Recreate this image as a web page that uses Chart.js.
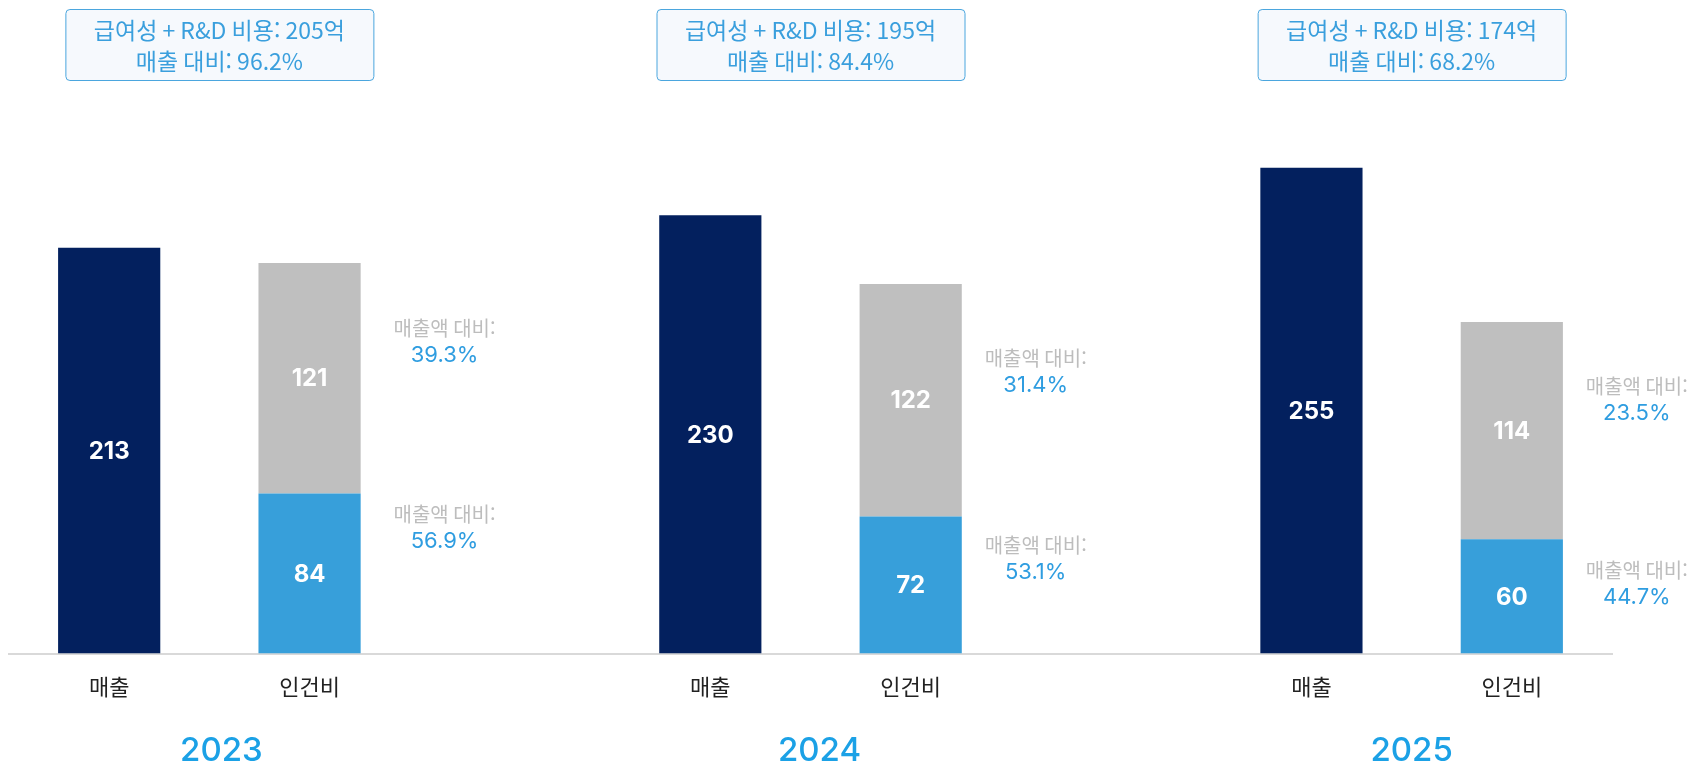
<!DOCTYPE html>
<html lang="ko">
<head>
<meta charset="utf-8">
<script src="https://cdn.jsdelivr.net/npm/chart.js@4.4.1/dist/chart.umd.min.js"></script>
<style>
  html, body { margin: 0; padding: 0; background: #fff; }
  #wrap { width: 1698px; height: 769px; position: relative; }
</style>
</head>
<body>
<div id="wrap"><canvas id="costChart"></canvas></div>
<script>
const years = ['2023', '2024', '2025'];
const barNames = ['매출', '인건비'];
const sales = [213, 230, 255];
const laborCost = [84, 72, 60];
const rndCost = [121, 122, 114];
const totalCost = [205, 195, 174];
const totalRatio = ['96.2%', '84.4%', '68.2%'];
const upperRatio = ['39.3%', '31.4%', '23.5%'];
const lowerRatio = ['56.9%', '53.1%', '44.7%'];

// two bars per year, empty slot between years
const labels = [];
const salesData = [], laborData = [], rndData = [];
years.forEach((y, i) => {
    labels.push(barNames[0], barNames[1]);
    salesData.push(sales[i], null);
    laborData.push(null, laborCost[i]);
    rndData.push(null, rndCost[i]);
    if (i < years.length - 1) {
        labels.push('');
        salesData.push(null);
        laborData.push(null);
        rndData.push(null);
    }
});

const KR = '"Noto Sans CJK KR", "Noto Sans", sans-serif';
const NUM = 'Inter, "Noto Sans", sans-serif';
// small hand-tuned nudges of the overlay texts
const boxShift = [10, 0, 0];
const yearShift = [12, 9, 0];
const upperNudge = [-1, 8, -2];
const lowerNudge = [-5, 3, 5];

function roundRect(ctx, x, y, w, h, r) {
    ctx.beginPath();
    ctx.moveTo(x + r, y);
    ctx.arcTo(x + w, y, x + w, y + h, r);
    ctx.arcTo(x + w, y + h, x, y + h, r);
    ctx.arcTo(x, y + h, x, y, r);
    ctx.arcTo(x, y, x + w, y, r);
    ctx.closePath();
}

const overlay = {
    id: 'overlay',
    afterDraw(chart) {
        const ctx = chart.ctx;
        ctx.save();

        // values inside bars
        ctx.textAlign = 'center';
        ctx.textBaseline = 'middle';
        ctx.fillStyle = '#ffffff';
        ctx.font = '700 24px ' + NUM;
        chart.data.datasets.forEach((ds, d) => {
            chart.getDatasetMeta(d).data.forEach((el, k) => {
                if (ds.data[k] == null) return;
                ctx.fillText(String(ds.data[k]), el.x, (el.y + el.base) / 2 + 1);
            });
        });

        const salesMeta = chart.getDatasetMeta(0);
        const laborMeta = chart.getDatasetMeta(1);
        const rndMeta = chart.getDatasetMeta(2);

        years.forEach((yr, i) => {
            const s = salesMeta.data[i * 3];
            const lab = laborMeta.data[i * 3 + 1];
            const rnd = rndMeta.data[i * 3 + 1];
            const mid = (s.x + lab.x) / 2;

            // summary box
            const bx = mid + boxShift[i];
            const bw = 308, bh = 71, by = 9;
            roundRect(ctx, bx - bw / 2 + 0.5, by + 0.5, bw, bh, 4);
            ctx.fillStyle = '#f6f9fd';
            ctx.fill();
            ctx.strokeStyle = '#4ba6de';
            ctx.lineWidth = 1;
            ctx.stroke();
            ctx.fillStyle = '#3a9fdd';
            ctx.font = '400 23px ' + KR;
            ctx.fillText('급여성 + R&D 비용: ' + totalCost[i] + '억', bx, by + 21);
            ctx.fillText('매출 대비: ' + totalRatio[i], bx, by + 52);

            // side notes
            const nx = lab.x + 125 + boxShift[i];
            const notes = [
                [rnd.y + 79 + upperNudge[i], upperRatio[i]],
                [lab.y + 39 + lowerNudge[i], lowerRatio[i]]
            ];
            notes.forEach(([cy, txt]) => {
                ctx.fillStyle = '#bdbdbd';
                ctx.font = '400 20px ' + KR;
                ctx.fillText('매출액 대비:', nx, cy - 13);
                ctx.fillStyle = '#2f9de0';
                ctx.font = '400 22px ' + NUM;
                ctx.fillText(txt, nx, cy + 14);
            });

            // year label
            ctx.fillStyle = '#1ba1e6';
            ctx.font = '500 33px ' + NUM;
            ctx.fillText(yr, mid + yearShift[i], 751);
        });

        ctx.restore();
    }
};

const ctx = document.getElementById('costChart').getContext('2d');
window.costChart = new Chart(ctx, {
    type: 'bar',
    data: {
        labels: labels,
        datasets: [
            { label: '매출', data: salesData, backgroundColor: '#03205e', stack: 'a' },
            { label: '인건비', data: laborData, backgroundColor: '#379fda', stack: 'a' },
            { label: 'R&D', data: rndData, backgroundColor: '#bfbfbf', stack: 'a' }
        ]
    },
    options: {
        responsive: true,
        maintainAspectRatio: false,
        animation: false,
        layout: { padding: { top: 101, left: 9, right: 86, bottom: 49 } },
        datasets: { bar: { barPercentage: 0.51, categoryPercentage: 1 } },
        scales: {
            x: {
                stacked: true,
                grid: { display: false, drawTicks: false },
                border: { display: true, color: '#d9d9d9', width: 2 },
                ticks: {
                    padding: 20,
                    color: '#222222',
                    font: { family: KR, size: 22 }
                }
            },
            y: {
                stacked: true,
                display: false,
                min: 0,
                max: 290
            }
        },
        plugins: {
            legend: { display: false },
            tooltip: { enabled: false }
        }
    },
    plugins: [overlay]
});
</script>
</body>
</html>
